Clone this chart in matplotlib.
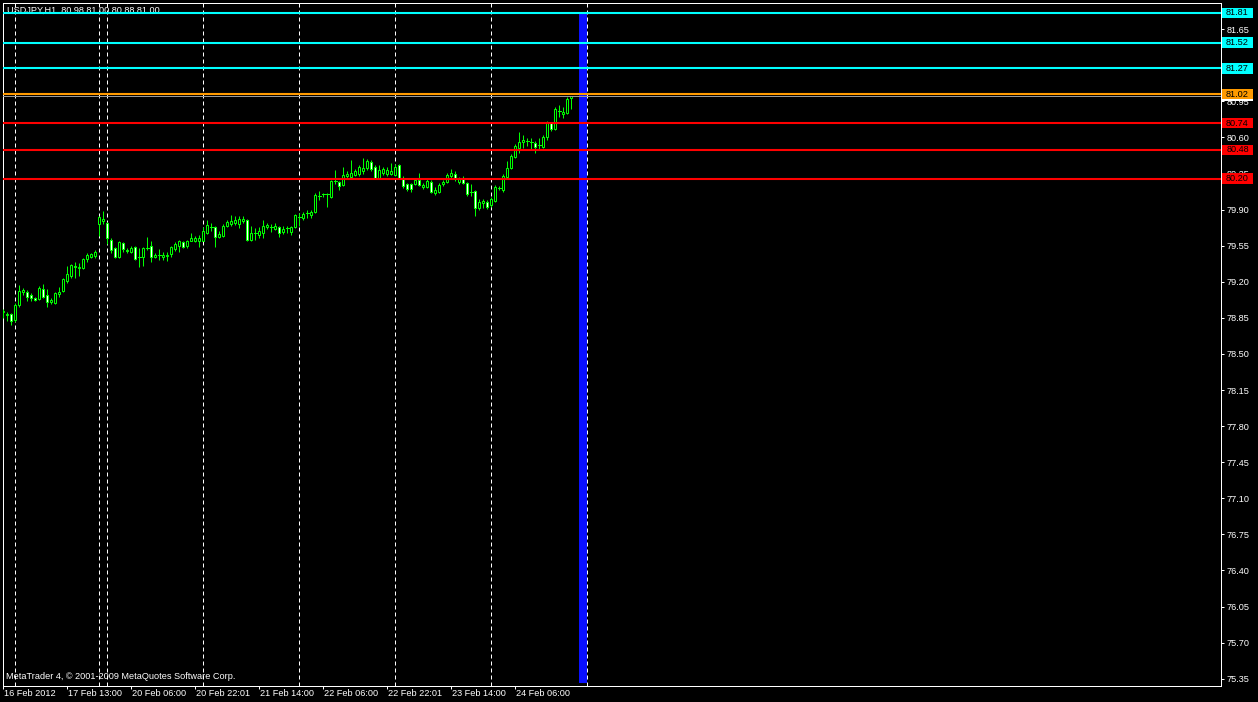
import matplotlib
matplotlib.use("Agg")
import matplotlib.pyplot as plt
import matplotlib.transforms as mtransforms
from matplotlib.patches import Rectangle

plt.rcParams['font.family'] = ['Liberation Sans', 'DejaVu Sans']

# USDJPY H1, bar index 0 = 16 Feb 2012
opens = [
    78.91, 78.88, 78.89, 78.83, 78.97, 79.10, 79.10, 79.07, 79.04, 79.03,
    79.13, 79.07, 79.00, 78.99, 79.08, 79.11, 79.21, 79.26, 79.35, 79.33,
    79.33, 79.42, 79.44, 79.45, 79.76, 79.79, 79.77, 79.61, 79.53, 79.44,
    79.58, 79.51, 79.49, 79.54, 79.44, 79.44, 79.53, 79.55, 79.44, 79.46,
    79.44, 79.45, 79.47, 79.52, 79.55, 79.59, 79.55, 79.60, 79.60, 79.60,
    79.60, 79.67, 79.73, 79.73, 79.63, 79.64, 79.74, 79.76, 79.77, 79.76,
    79.79, 79.80, 79.61, 79.67, 79.65, 79.67, 79.73, 79.73, 79.71, 79.73,
    79.68, 79.72, 79.68, 79.73, 79.83, 79.82, 79.87, 79.85, 79.88, 80.03,
    80.05, 80.05, 80.02, 80.18, 80.17, 80.14, 80.23, 80.22, 80.24, 80.25,
    80.27, 80.30, 80.36, 80.31, 80.21, 80.26, 80.25, 80.25, 80.24, 80.33,
    80.21, 80.15, 80.15, 80.15, 80.19, 80.12, 80.12, 80.17, 80.06, 80.07,
    80.15, 80.17, 80.23, 80.25, 80.17, 80.20, 80.16, 80.07, 80.08, 79.92,
    79.96, 79.97, 79.94, 79.98, 80.11, 80.09, 80.22, 80.30, 80.41, 80.50,
    80.56, 80.57, 80.56, 80.55, 80.53, 80.51, 80.60, 80.74, 80.68, 80.86,
    80.83, 80.84, 80.98]
highs = [
    78.94, 78.91, 78.90, 78.99, 79.17, 79.14, 79.12, 79.09, 79.05, 79.16,
    79.18, 79.13, 79.04, 79.10, 79.15, 79.24, 79.35, 79.37, 79.39, 79.38,
    79.43, 79.48, 79.48, 79.51, 79.84, 79.89, 79.78, 79.62, 79.54, 79.60,
    79.59, 79.53, 79.55, 79.55, 79.53, 79.54, 79.63, 79.60, 79.48, 79.52,
    79.49, 79.49, 79.55, 79.59, 79.61, 79.60, 79.61, 79.67, 79.64, 79.65,
    79.73, 79.80, 79.77, 79.74, 79.69, 79.76, 79.80, 79.85, 79.84, 79.84,
    79.84, 79.81, 79.74, 79.72, 79.73, 79.80, 79.77, 79.76, 79.77, 79.74,
    79.74, 79.74, 79.74, 79.86, 79.87, 79.88, 79.90, 79.90, 80.06, 80.08,
    80.06, 80.06, 80.19, 80.28, 80.18, 80.31, 80.27, 80.38, 80.29, 80.33,
    80.40, 80.39, 80.38, 80.33, 80.33, 80.31, 80.31, 80.35, 80.34, 80.34,
    80.23, 80.16, 80.16, 80.21, 80.26, 80.16, 80.20, 80.19, 80.12, 80.16,
    80.19, 80.26, 80.29, 80.27, 80.22, 80.23, 80.17, 80.15, 80.09, 80.00,
    80.00, 79.99, 80.02, 80.14, 80.13, 80.25, 80.37, 80.44, 80.54, 80.65,
    80.62, 80.59, 80.59, 80.57, 80.59, 80.62, 80.76, 80.75, 80.90, 80.91,
    80.90, 80.99, 81.00]
lows = [
    78.85, 78.82, 78.78, 78.81, 78.96, 79.07, 79.01, 79.01, 79.01, 79.02,
    79.04, 78.96, 78.98, 78.98, 79.05, 79.10, 79.19, 79.24, 79.24, 79.26,
    79.32, 79.39, 79.43, 79.43, 79.64, 79.76, 79.57, 79.48, 79.43, 79.43,
    79.49, 79.48, 79.48, 79.41, 79.34, 79.35, 79.51, 79.39, 79.43, 79.41,
    79.41, 79.40, 79.44, 79.50, 79.49, 79.53, 79.53, 79.60, 79.59, 79.54,
    79.60, 79.66, 79.69, 79.54, 79.62, 79.63, 79.73, 79.74, 79.75, 79.72,
    79.77, 79.60, 79.60, 79.61, 79.62, 79.62, 79.71, 79.68, 79.70, 79.63,
    79.66, 79.67, 79.65, 79.72, 79.74, 79.80, 79.82, 79.82, 79.87, 79.99,
    80.02, 79.93, 80.01, 80.15, 80.09, 80.13, 80.21, 80.20, 80.23, 80.23,
    80.25, 80.28, 80.27, 80.20, 80.20, 80.24, 80.23, 80.24, 80.23, 80.20,
    80.11, 80.08, 80.07, 80.14, 80.13, 80.10, 80.11, 80.06, 80.04, 80.06,
    80.13, 80.16, 80.21, 80.18, 80.15, 80.15, 80.03, 80.03, 79.84, 79.90,
    79.92, 79.91, 79.93, 79.97, 80.09, 80.07, 80.21, 80.29, 80.40, 80.45,
    80.50, 80.52, 80.49, 80.45, 80.49, 80.50, 80.58, 80.66, 80.67, 80.80,
    80.79, 80.83, 80.88]
closes = [
    78.92, 78.89, 78.82, 78.97, 79.11, 79.12, 79.05, 79.04, 79.02, 79.14,
    79.05, 79.00, 79.02, 79.09, 79.10, 79.23, 79.28, 79.36, 79.34, 79.34,
    79.42, 79.46, 79.47, 79.49, 79.83, 79.81, 79.62, 79.51, 79.44, 79.59,
    79.52, 79.50, 79.53, 79.42, 79.44, 79.53, 79.53, 79.44, 79.46, 79.46,
    79.46, 79.46, 79.54, 79.57, 79.60, 79.54, 79.60, 79.62, 79.62, 79.62,
    79.69, 79.75, 79.73, 79.63, 79.66, 79.74, 79.78, 79.79, 79.80, 79.81,
    79.81, 79.61, 79.67, 79.67, 79.69, 79.74, 79.75, 79.73, 79.74, 79.67,
    79.71, 79.72, 79.73, 79.85, 79.83, 79.86, 79.87, 79.88, 80.04, 80.03,
    80.05, 80.05, 80.18, 80.18, 80.13, 80.24, 80.25, 80.26, 80.27, 80.31,
    80.30, 80.37, 80.29, 80.21, 80.28, 80.29, 80.28, 80.27, 80.31, 80.21,
    80.13, 80.10, 80.10, 80.19, 80.14, 80.14, 80.18, 80.07, 80.09, 80.14,
    80.17, 80.24, 80.26, 80.21, 80.20, 80.16, 80.05, 80.07, 79.92, 79.97,
    79.98, 79.93, 80.00, 80.12, 80.11, 80.23, 80.30, 80.42, 80.52, 80.56,
    80.58, 80.57, 80.56, 80.51, 80.53, 80.60, 80.74, 80.68, 80.88, 80.86,
    80.85, 80.97, 81.00]

cyan_levels = [81.81, 81.52, 81.27]
orange_levels = [81.02]
red_levels = [80.74, 80.48, 80.20]
bid = 81.00

period_bars = [3, 24, 26, 50, 74, 98, 122, 146]
zone_bars = (143.9, 145.9)
zone_prices = (75.31, 81.81)

price_ticks = [81.65, 81.30, 80.95, 80.60, 80.25, 79.90, 79.55, 79.20, 78.85,
               78.50, 78.15, 77.80, 77.45, 77.10, 76.75, 76.40, 76.05, 75.70, 75.35]
time_labels = ["16 Feb 2012", "17 Feb 13:00", "20 Feb 06:00", "20 Feb 22:01",
               "21 Feb 14:00", "22 Feb 06:00", "22 Feb 22:01", "23 Feb 14:00",
               "24 Feb 06:00"]
time_label_bars = [0, 16, 32, 48, 64, 80, 96, 112, 128]

LIME = '#00FF00'
FS = 6.6
PX = 0.72  # one pixel in points

W, H = 1258, 702
fig = plt.figure(figsize=(W / 100, H / 100), dpi=100, facecolor='black')
ax = fig.add_axes([2.5 / W, 1 - 685.5 / H, 1218 / W, 683 / H], facecolor='black')
ax.set_xlim(-0.2, 304.3)
ax.set_ylim(75.284, 81.909)

# period separators
for b in period_bars:
    ax.axvline(b, color='white', lw=PX, ls=(0, (4, 3)), zorder=1)

# blue zone
ax.add_patch(Rectangle((zone_bars[0], zone_prices[0]), zone_bars[1] - zone_bars[0],
                       zone_prices[1] - zone_prices[0], fc='#0A10FF', ec='none', zorder=2))

# candles
for i, (o, h, l, c) in enumerate(zip(opens, highs, lows, closes)):
    ax.plot([i, i], [l, h], color=LIME, lw=PX, zorder=3, solid_capstyle='butt')
    if o == c:
        ax.plot([i - 0.375, i + 0.375], [c, c], color=LIME, lw=PX, zorder=4)
    else:
        fill = 'black' if c > o else 'white'
        ax.add_patch(Rectangle((i - 0.25, min(o, c)), 0.5, abs(c - o),
                               fc=fill, ec=LIME, lw=PX, zorder=4))

# horizontal levels
ax.axhline(bid, color='#9a9a9a', lw=PX, zorder=5)
for p in cyan_levels:
    ax.axhline(p, color='#00FFFF', lw=1.5, zorder=6)
for p in orange_levels:
    ax.axhline(p, color='#FF9A00', lw=1.5, zorder=6)
for p in red_levels:
    ax.axhline(p, color='#FF0000', lw=1.5, zorder=6)

# axes look
for s in ax.spines.values():
    s.set_color('white')
    s.set_linewidth(PX)
ax.yaxis.tick_right()
ax.set_yticks(price_ticks)
ax.set_yticklabels(['%.2f' % v for v in price_ticks])
ax.tick_params(axis='y', colors='white', length=3 * PX, width=PX, pad=2.2, labelsize=FS)
ax.set_xticks(time_label_bars)
ax.set_xticklabels([])
ax.tick_params(axis='x', colors='white', length=3 * PX, width=PX)

trans_x = mtransforms.blended_transform_factory(ax.transData, ax.transAxes)
for b, lab in zip(time_label_bars, time_labels):
    ax.text(b + 0.2, -(694 - 685.5) / 683, lab, transform=trans_x, color='white',
            fontsize=FS, ha='left', va='center', clip_on=False)

# price boxes on the right scale (later boxes cover earlier ones)
trans_y = mtransforms.blended_transform_factory(fig.transFigure, ax.transData)
box_h = 10.4 / 103.1
boxes = [(bid, 'white')] + [(p, '#00FFFF') for p in cyan_levels] + \
        [(p, '#FF9A00') for p in orange_levels] + [(p, '#FF0000') for p in red_levels]
for k, (p, col) in enumerate(boxes):
    z = 10 + 2 * k
    ax.add_patch(Rectangle((1222 / W, p - box_h / 2), 31 / W, box_h, transform=trans_y,
                           fc=col, ec='none', clip_on=False, zorder=z))
    ax.text(1237.5 / W, p, '%.2f' % p, transform=trans_y, color='black', fontsize=FS,
            ha='center', va='center', clip_on=False, zorder=z + 1)

# header and copyright
ax.text(7 / W, 1 - 10.5 / H, 'USDJPY,H1  80.98 81.00 80.88 81.00', transform=fig.transFigure,
        color='white', fontsize=FS, ha='left', va='center', zorder=5)
ax.text(6 / W, 1 - 676.5 / H, 'MetaTrader 4, © 2001-2009 MetaQuotes Software Corp.',
        transform=fig.transFigure, color='white', fontsize=FS, ha='left', va='center', zorder=5)

fig.savefig('out.png', dpi=100, facecolor='black')
